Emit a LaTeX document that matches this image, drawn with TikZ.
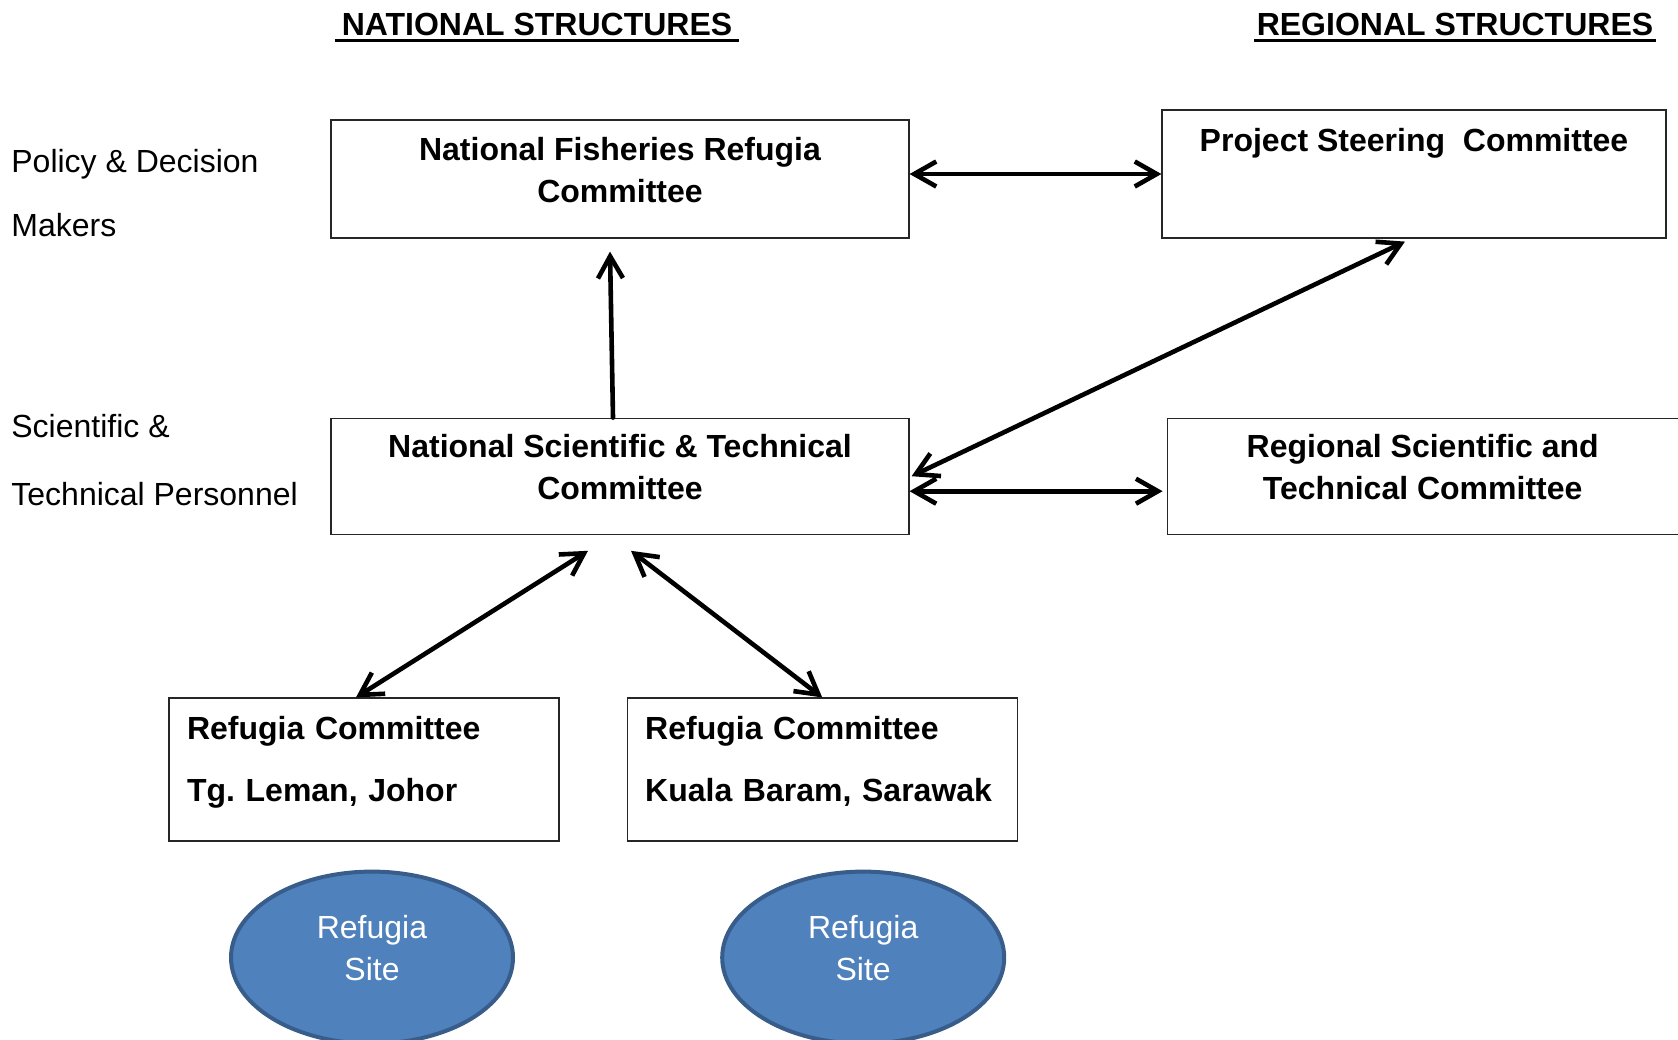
\documentclass[tikz,border=0pt]{standalone}
\usepackage{fontspec}
\setmainfont{Liberation Sans}
\usetikzlibrary{positioning, shapes.geometric, arrows.meta}

\definecolor{siteblue}{HTML}{4F81BD}
\definecolor{siteedge}{HTML}{385D8A}

\newcommand{\diafont}{\fontsize{16pt}{21pt}\selectfont}

\tikzset{
  box/.style={draw=black!85, line width=0.6pt, font=\diafont\bfseries},
  cbox/.style={box, align=left, minimum width=195pt, minimum height=71.5pt,
    text width=177pt, inner xsep=9pt, text depth=42pt},
  site/.style={ellipse, draw=siteedge, line width=2pt, fill=siteblue,
    text=white, align=center, minimum width=141pt, minimum height=86pt,
    text depth=9.6pt},
  link/.style={line width=2.3pt, line cap=round, line join=round},
  head/.style={font=\diafont\bfseries, anchor=base}
}

\begin{document}
\begin{tikzpicture}[x=0.5pt, y=-0.5pt,
    every node/.append style={font=\diafont},
    >={Straight Barb[length=11pt,width=12.5pt]}]
  \useasboundingbox (0,0) rectangle (1678,1040);

  % Headings
  \node[head] (NAT) at (537,35) {NATIONAL STRUCTURES};
  \node[head, inner xsep=1pt] (REG) at (1455,35) {REGIONAL STRUCTURES};
  \draw[line width=1.5pt] ([yshift=-2.5pt]NAT.base west) -- ([yshift=-2.5pt]NAT.base east);
  \draw[line width=1.5pt] ([yshift=-2.5pt]REG.base west) -- ([yshift=-2.5pt]REG.base east);

  % Levels
  \node[anchor=west, align=left, inner sep=0pt] (PDM) at (11,193) {Policy \& Decision\\[11pt]Makers};
  \node[anchor=west, align=left, inner sep=0pt] (STP) at (11,460) {Scientific \&\\[13pt]Technical Personnel};

  % Committees
  \node[box, align=center, minimum width=289pt, minimum height=59pt, text depth=9pt] (NFR) at (620,179) {National Fisheries Refugia\\Committee};
  \node[box, minimum width=252pt, minimum height=64pt, text depth=34pt] (PSC) at (1414,174) {Project Steering\ \ Committee};
  \node[box, align=center, minimum width=289pt, minimum height=58pt, text depth=9pt, below=89.5pt of NFR] (NST) {National Scientific \& Technical\\Committee};
  \node[box, align=center, minimum width=255.5pt, minimum height=58pt, text depth=9pt, right=128.5pt of NST] (RST) {Regional Scientific and\\Technical Committee};

  \node[cbox] (RC1) at (364,769.5) {Refugia Committee\\[10pt]Tg.\ Leman, Johor};
  \node[cbox, right=33.5pt of RC1] (RC2) {Refugia Committee\\[10pt]Kuala Baram, Sarawak};

  % Sites
  \node[site, below=14pt of RC1, xshift=4pt] (S1) {Refugia\\Site};
  \node[site, below=14pt of RC2, xshift=20.5pt] (S2) {Refugia\\Site};

  % Links
  \draw[link, <->] (PSC.west -| NFR.east) -- (PSC.west);
  \draw[link, ->] ([xshift=-3.5pt]NST.north) -- ([xshift=-5pt,yshift=-6.5pt]NFR.south);
  \draw[link, <->] ([xshift=-4.5pt,yshift=-1.5pt]PSC.south) -- ([xshift=1pt]NST.east);
  \draw[link, <->] ([yshift=-7.5pt]NST.east) -- ([xshift=-2pt,yshift=-7.5pt]RST.west);
  \draw[link, <->] ([xshift=-16pt,yshift=-8pt]NST.south) -- ([xshift=-4pt]RC1.north);
  \draw[link, <->] ([xshift=5.5pt,yshift=-8pt]NST.south) -- (RC2.north);
\end{tikzpicture}
\end{document}
